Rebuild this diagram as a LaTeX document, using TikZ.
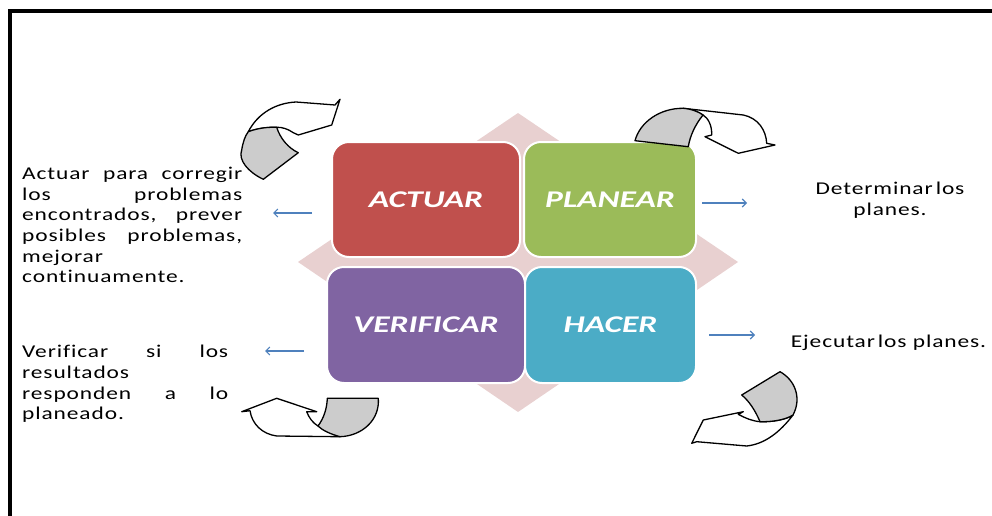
\documentclass[tikz,border=0pt]{standalone}
\usepackage{fontspec}
\setmainfont{Carlito}
\newfontfamily\bodyfont[FakeStretch=1.3,LetterSpace=5,Ligatures={NoCommon}]{Carlito}
\newfontfamily\labelfont[FakeStretch=1.4]{Carlito}
\usetikzlibrary{arrows.meta}
\definecolor{actred}{HTML}{C0504D}
\definecolor{plangreen}{HTML}{9BBB59}
\definecolor{verpurple}{HTML}{8064A2}
\definecolor{hacblue}{HTML}{4BACC6}
\definecolor{diamondpink}{HTML}{E8D0D0}
\definecolor{arrowblue}{HTML}{4F81BD}
\definecolor{ribbongray}{HTML}{CCCCCC}
\newcommand{\tightgap}{\hspace{3pt}}
\tikzset{
  stage/.style={rounded corners=17pt, draw=white, line width=2pt, inner sep=0pt,
    text=white, font=\labelfont\bfseries\itshape\fontsize{24}{24}\selectfont},
  flow/.style={draw=arrowblue, line width=1.1pt, -{Straight Barb[length=4pt,width=8pt]}},
  ribbon/.style={draw=black, line width=1.3pt, line join=round, fill=white},
  ribbonface/.style={ribbon, fill=ribbongray},
  note/.style={inner sep=0pt, anchor=base west, font=\bodyfont\fontsize{18}{20.7}\selectfont},
  rnote/.style={inner sep=0pt, anchor=base, align=center, font=\bodyfont\fontsize{18}{21}\selectfont}
}
\begin{document}
\begin{tikzpicture}[x=1pt,y=-1pt]
\useasboundingbox (0,0) rectangle (992,516);

% frame: top and left rules only
\draw[line width=4.5pt] (10,516) -- (10,11) -- (992,11);

% pale diamond behind the four stages
\fill[diamondpink] (518,113) -- (738,262) -- (518,412) -- (298,262) -- cycle;

% the four stages
\node[stage, fill=actred,     minimum width=188pt, minimum height=115pt] (actuar)    at (426,199.5) {ACTUAR};
\node[stage, fill=plangreen,  minimum width=172pt, minimum height=115pt] (planear)   at (610,199.5) {PLANEAR};
\node[stage, fill=verpurple,  minimum width=198pt, minimum height=116pt] (verificar) at (426,325)   {VERIFICAR};
\node[stage, fill=hacblue,    minimum width=171pt, minimum height=116pt] (hacer)     at (610.5,325) {HACER};

% descriptions
\node[note] (tactuar) at (22,179.3) {\parbox[t]{220pt}{%
  \makebox[220pt][s]{Actuar para corregir}\\
  \makebox[220pt][s]{los problemas}\\
  \makebox[220pt][s]{encontrados, prever}\\
  \makebox[220pt][s]{posibles problemas,}\\
  mejorar\\
  continuamente.}};
\node[note] (tverificar) at (22,357.7) {\parbox[t]{206pt}{%
  \makebox[206pt][s]{Verificar si los}\\
  resultados\\
  \makebox[206pt][s]{responden a lo}\\
  planeado.}};
\node[rnote] (tplanear) at (890,215.7) {Determinar\tightgap los\\planes.};
\node[rnote] (thacer) at (888.5,347.7) {Ejecutar\tightgap los planes.};

% short pointers from stages to descriptions
\coordinate (a1s) at (312,213);  \coordinate (a1e) at (273,213);
\coordinate (a2s) at (304,351);  \coordinate (a2e) at (265,351);
\coordinate (a3s) at (702,203);  \coordinate (a3e) at (747,203);
\coordinate (a4s) at (709,335);  \coordinate (a4e) at (755,335);
\draw[flow] (a1s) -- (a1e);
\draw[flow] (a2s) -- (a2e);
\draw[flow] (a3s) -- (a3e);
\draw[flow] (a4s) -- (a4e);

% curved ribbon arrow, upper left
\draw[ribbon] (248.3,131.7) .. controls (258,113) and (276,103) .. (296,102)
  -- (335,105) -- (340,99.3) -- (331.7,125) -- (298.3,135) -- (293.3,132.7)
  .. controls (288,129) and (282,127) .. (276.7,127.3)
  .. controls (266,127) and (256,129) .. (248.3,131.7) -- cycle;
\draw[ribbonface] (248.3,131.7) .. controls (258,128) and (268,127) .. (276.7,127.3)
  .. controls (280,138) and (288,148) .. (298.3,152.7) -- (263.3,179.3)
  .. controls (248,172) and (238,160) .. (241.7,150)
  .. controls (243,142) and (245,136) .. (248.3,131.7) -- cycle;

% curved ribbon arrow, upper right
\draw[ribbon] (683.3,108.3) -- (743.3,115) .. controls (758,118) and (766,130) .. (766.7,143.3)
  -- (775,145) -- (738.3,153.3) -- (705,136.7) -- (711.7,135)
  .. controls (712,125) and (708,118) .. (703,115)
  .. controls (697,111) and (690,109) .. (683.3,108.3) -- cycle;
\draw[ribbonface] (635,140.7) .. controls (640,122) and (660,108) .. (683.3,108.3)
  .. controls (692,109) and (699,112) .. (703,115)
  .. controls (695,125) and (690,136) .. (688.3,146.7) -- cycle;

% curved ribbon arrow, lower left
\draw[ribbon] (241.7,411.7) -- (276.7,398.3) -- (316.7,411.7) -- (306.7,411.7)
  .. controls (309,418) and (313,423) .. (318,426) -- (340,436.7) -- (276.7,436)
  .. controls (262,434) and (252,424) .. (250,410.7) -- cycle;
\draw[ribbonface] (327.3,398.3) -- (378.3,398.3) .. controls (380,420) and (362,436) .. (340,436.7)
  .. controls (330,434) and (322,430) .. (318,426)
  .. controls (324,418) and (327,408) .. (327.3,398.3) -- cycle;

% curved ribbon arrow, lower right
\draw[ribbon] (691.7,443.3) -- (703.3,420) -- (743.3,411.7) -- (738.3,414.3)
  .. controls (745,418) and (752,421) .. (760,421.7)
  .. controls (772,422) and (785,420) .. (793,415)
  .. controls (780,432) and (765,444) .. (746.7,446) -- (696.7,441.7) -- cycle;
\draw[ribbonface] (741.7,395) -- (780,371.7) .. controls (795,380) and (802,398) .. (793,415)
  .. controls (785,420) and (772,422) .. (760,421.7)
  .. controls (755,410) and (749,401) .. (741.7,395) -- cycle;
\end{tikzpicture}
\end{document}
